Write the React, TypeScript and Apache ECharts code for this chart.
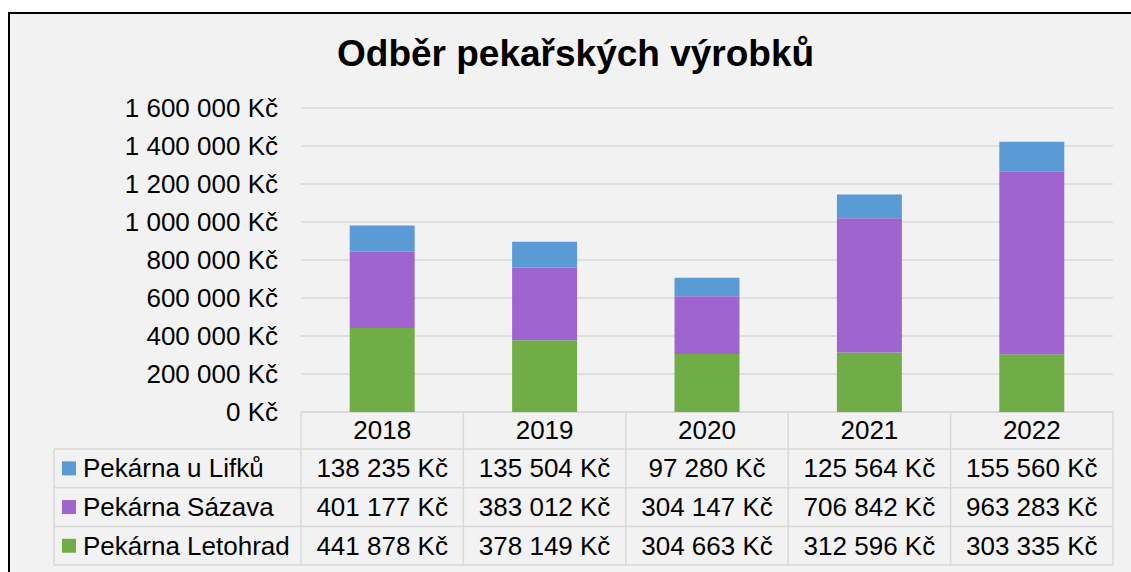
import React, { useEffect, useRef } from "react";
import * as echarts from "echarts";

const TITLE = "Odběr pekařských výrobků";
const YEARS = ["2018", "2019", "2020", "2021", "2022"];
const SERIES_NAMES = ["Pekárna u Lifků", "Pekárna Sázava", "Pekárna Letohrad"];
const LIFKU = [138235, 135504, 97280, 125564, 155560];
const SAZAVA = [401177, 383012, 304147, 706842, 963283];
const LETOHRAD = [441878, 378149, 304663, 312596, 303335];
const COLORS = ["#5b9bd5", "#a064d0", "#70ad47"];
const Y_MAX = 1600000;
const Y_INTERVAL = 200000;

const FONT = "'Liberation Sans', Arial, sans-serif";
const FS = 26;
const GRID_COLOR = "#d9d9d9";

const fmt = (n: number) =>
  String(n).replace(/\B(?=(\d{3})+(?!\d))/g, " ") + " Kč";

export default function App() {
  const ref = useRef<HTMLDivElement>(null);
  useEffect(() => {
    if (!ref.current) return;
    const chart = echarts.init(ref.current, null, { renderer: "svg" });
    const GRID = { left: 301, right: 18, top: 108, bottom: 160 };
    chart.setOption({
      animation: false,
      backgroundColor: "transparent",
      textStyle: { fontFamily: FONT },
      title: {
        text: TITLE,
        left: 332,
        top: 30,
        textStyle: { fontSize: 37, fontWeight: "bold", color: "#000", fontFamily: FONT },
      },
      grid: GRID,
      xAxis: {
        type: "category",
        data: YEARS,
        axisLine: { show: true, lineStyle: { color: GRID_COLOR, width: 1.5 } },
        axisTick: { show: false },
        axisLabel: { fontSize: FS, color: "#000", margin: 5, fontFamily: FONT },
      },
      yAxis: {
        type: "value",
        min: 0,
        max: Y_MAX,
        interval: Y_INTERVAL,
        axisLine: { show: false },
        axisTick: { show: false },
        axisLabel: {
          fontSize: FS,
          color: "#000",
          margin: 23,
          fontFamily: FONT,
          formatter: (v: number) => fmt(v),
        },
        splitLine: { lineStyle: { color: GRID_COLOR, width: 1.5 } },
      },
      series: [
        { name: SERIES_NAMES[2], type: "bar", stack: "t", data: LETOHRAD, itemStyle: { color: COLORS[2] }, barWidth: "40%" },
        { name: SERIES_NAMES[1], type: "bar", stack: "t", data: SAZAVA, itemStyle: { color: COLORS[1] } },
        { name: SERIES_NAMES[0], type: "bar", stack: "t", data: LIFKU, itemStyle: { color: COLORS[0] } },
      ],
    });

    // Build data table from axis geometry
    const xs = YEARS.map((y) => chart.convertToPixel({ xAxisIndex: 0 }, y) as number);
    const band = xs[1] - xs[0];
    const bounds = [xs[0] - band / 2, ...xs.map((x) => x + band / 2)];
    const axisY = chart.convertToPixel({ yAxisIndex: 0 }, 0) as number;
    const headerH = 37;
    const rowH = 38.7;
    const tableLeft = 54;
    const rowTops = [0, 1, 2, 3].map((i) => axisY + headerH + i * rowH);
    const tableBottom = rowTops[3];
    const right = bounds[bounds.length - 1];
    const graphic: any[] = [];
    const ln = (x1: number, y1: number, x2: number, y2: number) =>
      graphic.push({
        type: "line",
        silent: true,
        shape: { x1, y1, x2, y2 },
        style: { stroke: GRID_COLOR, lineWidth: 1.5 },
      });
    rowTops.forEach((y) => ln(tableLeft, y, right, y));
    ln(tableLeft, rowTops[0], tableLeft, tableBottom);
    bounds.forEach((x) => ln(x, axisY, x, tableBottom));
    const rows = [LIFKU, SAZAVA, LETOHRAD];
    rows.forEach((vals, r) => {
      const cy = rowTops[r] + rowH / 2;
      graphic.push({
        type: "rect",
        silent: true,
        shape: { x: 62, y: cy - 7, width: 14, height: 14 },
        style: { fill: COLORS[r] },
      });
      graphic.push({
        type: "text",
        silent: true,
        style: {
          x: 83,
          y: cy,
          text: SERIES_NAMES[r],
          fontSize: FS,
          fontFamily: FONT,
          fill: "#000",
          align: "left",
          verticalAlign: "middle",
        },
      });
      vals.forEach((v, i) => {
        graphic.push({
          type: "text",
          silent: true,
          style: {
            x: xs[i],
            y: cy,
            text: fmt(v),
            fontSize: FS,
            fontFamily: FONT,
            fill: "#000",
            align: "center",
            verticalAlign: "middle",
          },
        });
      });
    });
    chart.setOption({ graphic });
    return () => chart.dispose();
  }, []);

  return (
    <div style={{ position: "fixed", left: 0, top: 0, width: 1131, height: 572, overflow: "hidden", background: "#fff" }}>
      <div
        style={{
          position: "absolute",
          left: 8,
          top: 12,
          width: 1300,
          height: 800,
          border: "2px solid #000",
          background: "#f2f2f2",
          boxSizing: "border-box",
        }}
      />
      <div ref={ref} style={{ position: "absolute", left: 0, top: 0, width: 1131, height: 572 }} />
    </div>
  );
}
